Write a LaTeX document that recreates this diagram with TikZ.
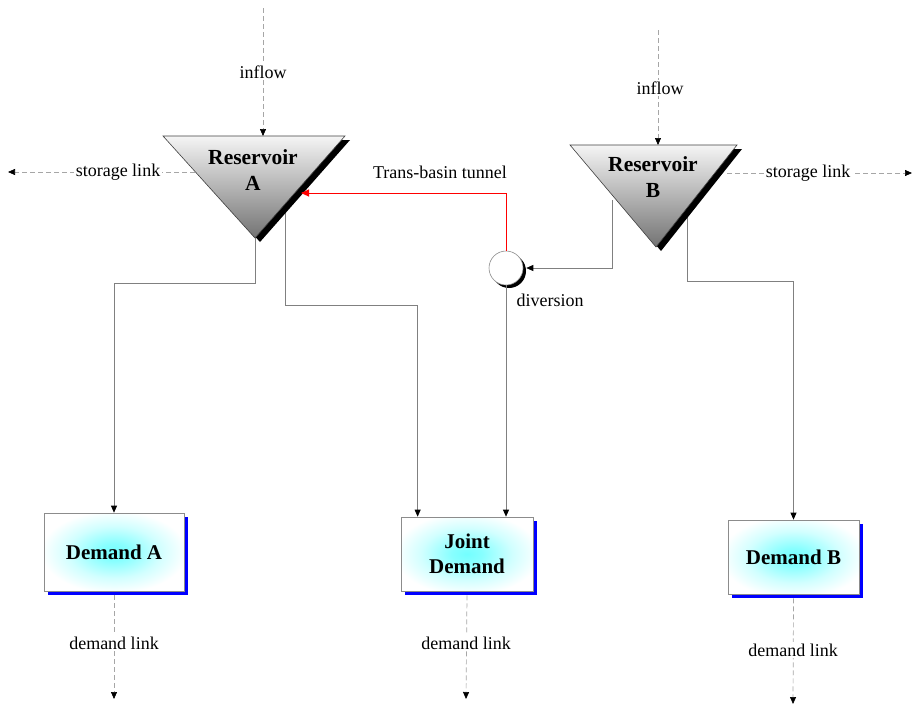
\documentclass[tikz,border=0pt]{standalone}
\usepackage{fontspec}
\setmainfont{Liberation Serif}
\usetikzlibrary{arrows.meta,shadows,calc}
% soft cyan glow inside the demand boxes (edge of the shaded path at 25bp)
\pgfdeclareradialshading{glow}{\pgfpoint{0bp}{0bp}}{%
  color(0bp)=(cyan!55); color(5bp)=(cyan!47); color(15bp)=(cyan!18);
  color(24bp)=(white); color(50bp)=(white)}
\begin{document}
\begin{tikzpicture}[x=1pt,y=-1pt,
  lbl/.style={font=\fontsize{18}{20}\selectfont, fill=white, inner sep=1.5pt},
  plainlbl/.style={font=\fontsize{18}{20}\selectfont, inner sep=1pt},
  restitle/.style={font=\bfseries\fontsize{21.5}{26}\selectfont, align=center, inner sep=0pt},
  pipe/.style={draw=black!50, line width=0.7pt},
  link/.style={draw=black!35, line width=0.7pt, dash pattern=on 5pt off 3pt},
  tip/.style={-{Triangle[length=7pt,width=6pt,black]}},
  rescol/.style={draw=black!75, line width=0.6pt, top color=black!4, bottom color=black!55},
  demand/.style={draw=black!45, line width=0.7pt, fill=white, inner sep=0pt,
    align=center, font=\bfseries\fontsize{21}{25}\selectfont,
    drop shadow={shadow xshift=4pt, shadow yshift=-4pt, fill=blue, opacity=1},
    path picture={\shade[shading=glow]
      (path picture bounding box.center) ellipse [x radius=76pt, y radius=43pt];}},
  divnode/.style={circle, draw=black!45, line width=0.6pt, fill=white,
    minimum size=34pt, inner sep=0pt,
    drop shadow={shadow xshift=3pt, shadow yshift=-3pt, fill=black, opacity=1}},
]
\useasboundingbox (0,0) rectangle (912,705);

% demand nodes and the diversion junction
\node[demand, minimum width=140pt, minimum height=78pt] (dA) at (114,552) {Demand A};
\node[demand, minimum width=132pt, minimum height=74pt] (jD) at (467,554) {Joint\\Demand};
\node[demand, minimum width=131pt, minimum height=74pt] (dB) at (793.5,557) {Demand B};
\node[divnode] (div) at (506,268) {};

% reservoir corners and outlet points
\coordinate (rAtl) at (163,136);
\coordinate (rAtr) at (345,136);
\coordinate (rAb)  at (255,238);
\coordinate (rBtl) at (570,145);
\coordinate (rBtr) at (737,145);
\coordinate (rBb)  at (656,247);
\coordinate (rAout) at (285,205);
\coordinate (rBout1) at (612,200);
\coordinate (rBout2) at (687,210);

% outlet pipes (start behind the reservoirs)
\draw[pipe,tip] (rAb) -- ++(0,45) -| (dA.north);
\draw[pipe,tip] (rAout) -- ++(0,100) -| ($(jD.north west)+(17,0)$);
\draw[pipe,tip] (rBout1) |- ($(div.east)+(3,0)$);
\draw[pipe,tip] (rBout2) -- ++(0,71) -| (dB.north);
\draw[pipe,tip] (div.south) -- (div.south |- jD.north);

% reservoirs with their shadows
\fill[black] ($(rAtl)+(5,4)$) -- ($(rAtr)+(5,4)$) -- ($(rAb)+(5,4)$) -- cycle;
\path[rescol] (rAtl) -- (rAtr) -- (rAb) -- cycle;
\node[restitle] (rAtxt) at (253,170) {Reservoir\\A};
\fill[black] ($(rBtl)+(5,4)$) -- ($(rBtr)+(5,4)$) -- ($(rBb)+(5,4)$) -- cycle;
\path[rescol] (rBtl) -- (rBtr) -- (rBb) -- cycle;
\node[restitle] (rBtxt) at (653,177.5) {Reservoir\\B};

% trans-basin tunnel
\coordinate (rAin) at (301,193);
\draw[red, line width=0.9pt, -{Triangle[length=8pt,width=7pt]}] (div.north) |- (rAin);
\node[plainlbl] (tunlbl) at (440,172) {Trans-basin tunnel};
\node[plainlbl] (divlbl) at (550,300) {diversion};

% inflows
\coordinate (inA) at (263,8);
\coordinate (rAtop) at (263,136);
\draw[link,tip] (inA) -- (rAtop);
\node[lbl] (inAlbl) at (263,72) {inflow};
\coordinate (inB) at (658,30);
\coordinate (rBtop) at (658,145);
\draw[link,tip] (inB) -- (rBtop);
\node[lbl] (inBlbl) at (660,88) {inflow};

% storage links
\coordinate (rAleft) at (195,172);
\coordinate (stA) at (8,172);
\draw[link,tip] (rAleft) -- (stA);
\node[lbl] (stAlbl) at (118,172) {storage link};
\coordinate (rBright) at (727,173);
\coordinate (stB) at (912,173);
\draw[link,tip] (rBright) -- (stB);
\node[lbl] (stBlbl) at (808,173) {storage link};

% demand links
\coordinate (endA) at (114,699);
\coordinate (endJ) at (466,699);
\coordinate (endB) at (793,704);
\draw[link,tip] ($(dA.south)+(0,4)$) -- (endA);
\draw[link,tip] ($(jD.south)+(0,4)$) -- (endJ);
\draw[link,tip] ($(dB.south)+(0,4)$) -- (endB);
\node[lbl] (dAlbl) at (114,643) {demand link};
\node[lbl] (jDlbl) at (466,643) {demand link};
\node[lbl] (dBlbl) at (793,650) {demand link};
\end{tikzpicture}
\end{document}
